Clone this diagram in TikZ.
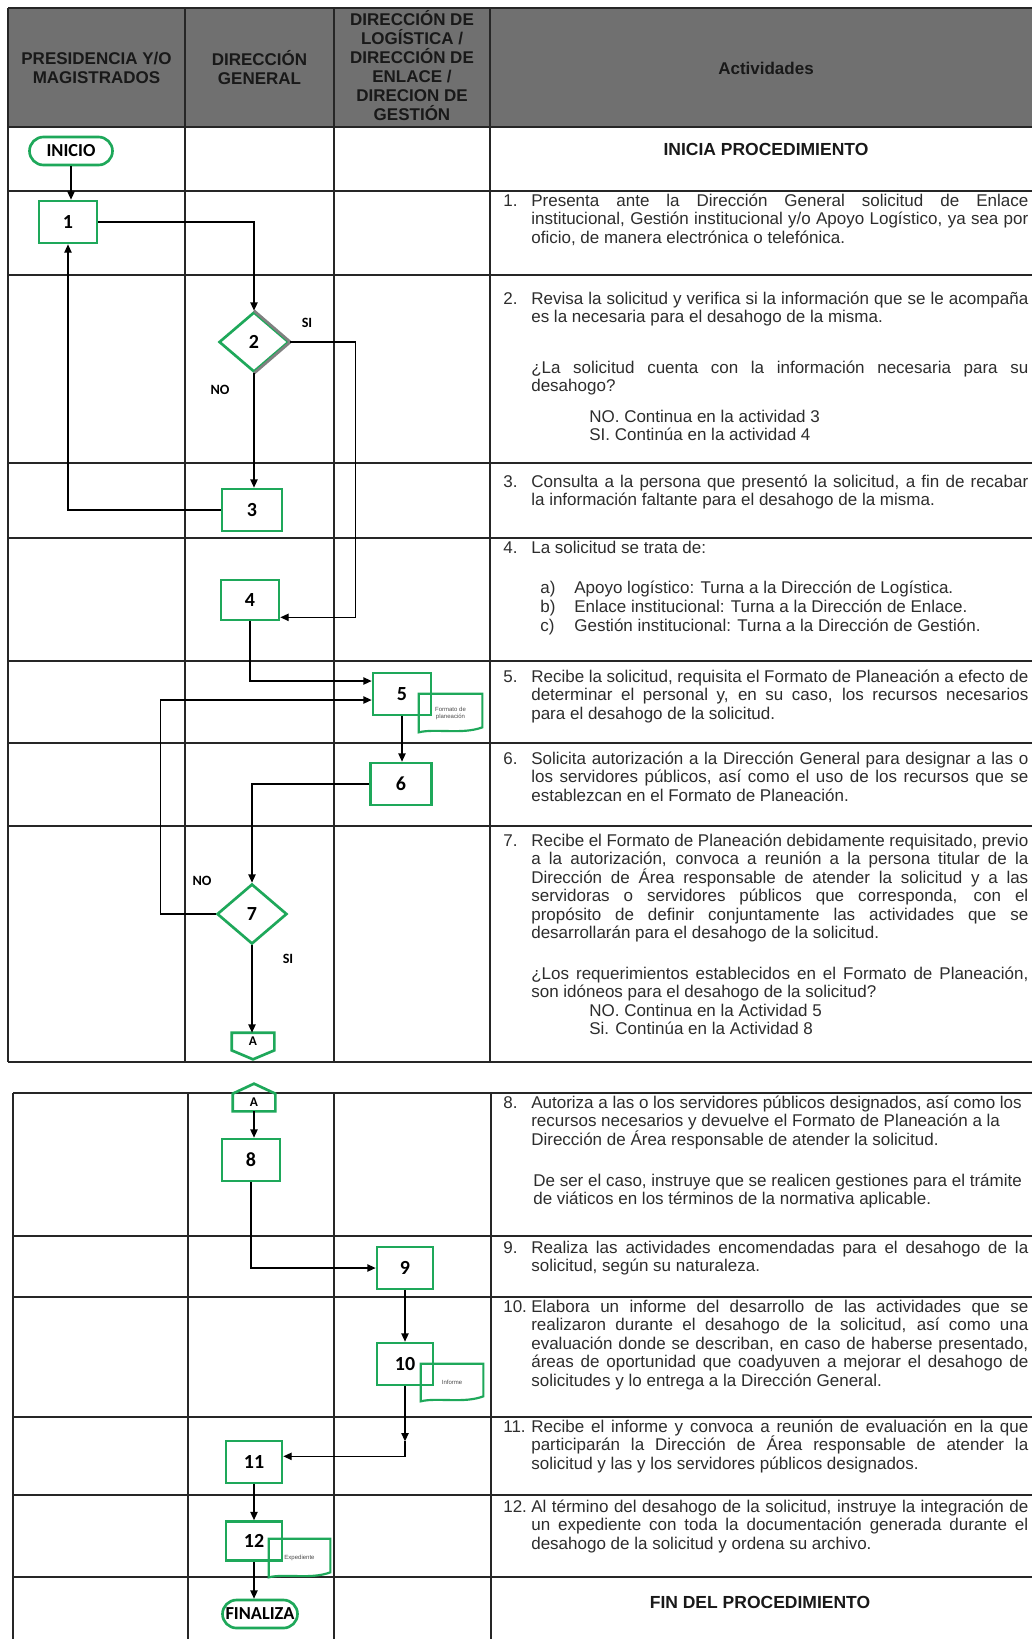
\documentclass[tikz,border=0pt]{standalone}
\usepackage{fontspec}
\setmainfont{Liberation Sans}
\newfontfamily\calfont{Carlito}
\usetikzlibrary{arrows.meta,shapes.geometric,calc}
\definecolor{flowgreen}{RGB}{30,168,90}
\definecolor{hdrgray}{RGB}{112,112,112}
\definecolor{bodytxt}{RGB}{45,45,45}
\newcommand\bodyfont{\fontsize{10.2pt}{11.1pt}\selectfont}
\newcommand\JL[1]{\hbox to\hsize{#1}}
\newcommand\RL[1]{\hbox{#1}}
\newcommand\blk[2]{\vtop{\hsize=#1\relax #2}}
\newcommand\docshape[1]{\draw[docline] (#1.north west) -- (#1.north east) -- ([yshift=3pt]#1.south east) .. controls ([xshift=-12pt,yshift=-1.5pt]#1.south east) and ([xshift=10pt,yshift=2.5pt]#1.south west) .. (#1.south west) -- cycle;}
\begin{document}
\begin{tikzpicture}[x=0.6pt,y=-0.6pt,
  gridline/.style={line width=1.2pt,draw=black!85},
  hdr/.style={align=center,font=\bfseries\fontsize{10.2pt}{11.4pt}\selectfont,text=black!90,inner sep=0pt},
  txt/.style={anchor=base west,inner sep=0pt,font=\bodyfont,text=bodytxt},
  ttl/.style={anchor=base,inner sep=0pt,font=\bfseries\fontsize{10.5pt}{12pt}\selectfont,text=black!90},
  proc/.style={draw=flowgreen,line width=1.6pt,minimum width=34.8pt,minimum height=25.2pt,inner sep=0pt,font=\calfont\bfseries\fontsize{12pt}{12pt}\selectfont},
  term/.style={draw=flowgreen,line width=1.6pt,rounded corners=8.4pt,minimum height=16.8pt,inner sep=0pt,font=\calfont\bfseries\fontsize{11pt}{11pt}\selectfont},
  decision/.style={diamond,draw=flowgreen,line width=1.6pt,minimum width=42pt,minimum height=36pt,inner sep=0pt,font=\calfont\bfseries\fontsize{12pt}{12pt}\selectfont},
  docnode/.style={inner sep=1pt,align=center,font=\fontsize{3.6pt}{4.2pt}\selectfont,text=black!70},
  docline/.style={draw=flowgreen,line width=1.3pt},
  flowline/.style={draw=flowgreen,line width=1.6pt},
  conn/.style={inner sep=0pt,minimum width=25.2pt,minimum height=10.2pt,font=\calfont\bfseries\fontsize{8pt}{8pt}\selectfont},
  lbl/.style={inner sep=0pt,font=\calfont\bfseries\fontsize{8.5pt}{9pt}\selectfont},
  arr/.style={-{Triangle[length=5pt,width=4.4pt]},line width=0.8pt},
]
\clip (0,0) rectangle (1032,1639);
\fill[white] (0,0) rectangle (1032,1639);
% ---------- table 1 ----------
\fill[hdrgray] (8,8) rectangle (1045,127);
\foreach \y in {8,127,191,275,463,538,661,743,826,1062} \draw[gridline] (8,\y) -- (1045,\y);
\foreach \x in {8,185,334,490} \draw[gridline] (\x,8) -- (\x,1062);
% ---------- table 2 ----------
\foreach \y in {1093,1236,1297,1417,1495,1577} \draw[gridline] (13,\y) -- (1045,\y);
\foreach \x in {13,188,334,491} \draw[gridline] (\x,1093) -- (\x,1650);
% ---------- header ----------
\node[hdr] (h1) at (96.5,68) {PRESIDENCIA Y/O\\MAGISTRADOS};
\node[hdr] (h2) at (259.5,68) {DIRECCIÓN\\GENERAL};
\node[hdr] (h3) at (412,66) {DIRECCIÓN DE\\LOGÍSTICA /\\DIRECCIÓN DE\\ENLACE /\\DIRECION DE\\GESTIÓN};
\node[hdr] (h4) at (766,68) {Actividades};
% ---------- activity texts ----------
\node[ttl] (tini) at (766,155) {INICIA PROCEDIMIENTO};
\node[txt] (n1) at (503,206) {1.};
\node[txt] (t1) at (531,206) {\blk{298.2pt}{\JL{Presenta ante la Dirección General solicitud de Enlace}\JL{institucional, Gestión institucional y/o Apoyo Logístico, ya sea por}\RL{oficio, de manera electrónica o telefónica.}}};
\node[txt] (n2) at (503,304) {2.};
\node[txt] (t2) at (531,304) {\blk{298.2pt}{\JL{Revisa la solicitud y verifica si la información que se le acompaña}\RL{es la necesaria para el desahogo de la misma.}}};
\node[txt] (t2b) at (531,373) {\blk{298.2pt}{\JL{¿La solicitud cuenta con la información necesaria para su}\RL{desahogo?}}};
\node[txt] (t2c) at (589,422) {\blk{200pt}{\RL{NO. Continua en la actividad 3}\RL{SI. Continúa en la actividad 4}}};
\node[txt] (n3) at (503,487) {3.};
\node[txt] (t3) at (531,487) {\blk{298.2pt}{\JL{Consulta a la persona que presentó la solicitud, a fin de recabar}\RL{la información faltante para el desahogo de la misma.}}};
\node[txt] (n4) at (503,553) {4.};
\node[txt] (t4) at (531,553) {La solicitud se trata de:};
\node[txt] (l4a) at (540,593) {a)};
\node[txt] (t4a) at (574,593) {Apoyo logístico: Turna a la Dirección de Logística.};
\node[txt] (l4b) at (540,612) {b)};
\node[txt] (t4b) at (574,612) {Enlace institucional: Turna a la Dirección de Enlace.};
\node[txt] (l4c) at (540,631) {c)};
\node[txt] (t4c) at (574,631) {Gestión institucional: Turna a la Dirección de Gestión.};
\node[txt] (n5) at (503,682) {5.};
\node[txt] (t5) at (531,682) {\blk{298.2pt}{\JL{Recibe la solicitud, requisita el Formato de Planeación a efecto de}\JL{determinar el personal y, en su caso, los recursos necesarios}\RL{para el desahogo de la solicitud.}}};
\node[txt] (n6) at (503,764) {6.};
\node[txt] (t6) at (531,764) {\blk{298.2pt}{\JL{Solicita autorización a la Dirección General para designar a las o}\JL{los servidores públicos, así como el uso de los recursos que se}\RL{establezcan en el Formato de Planeación.}}};
\node[txt] (n7) at (503,846) {7.};
\node[txt] (t7) at (531,846) {\blk{298.2pt}{\JL{Recibe el Formato de Planeación debidamente requisitado, previo}\JL{a la autorización, convoca a reunión a la persona titular de la}\JL{Dirección de Área responsable de atender la solicitud y a las}\JL{servidoras o servidores públicos que corresponda, con el}\JL{propósito de definir conjuntamente las actividades que se}\RL{desarrollarán para el desahogo de la solicitud.}}};
\node[txt] (t7b) at (531,979) {\blk{298.2pt}{\JL{¿Los requerimientos establecidos en el Formato de Planeación,}\RL{son idóneos para el desahogo de la solicitud?}}};
\node[txt] (t7c) at (589,1016) {\blk{200pt}{\RL{NO. Continua en la Actividad 5}\RL{Si. Continúa en la Actividad 8}}};
\node[txt] (n8) at (503,1108) {8.};
\node[txt] (t8) at (531,1108) {\blk{298.2pt}{\RL{Autoriza a las o los servidores públicos designados, así como los}\RL{recursos necesarios y devuelve el Formato de Planeación a la}\RL{Dirección de Área responsable de atender la solicitud.}}};
\node[txt] (t8b) at (533,1186) {\blk{297pt}{\RL{De ser el caso, instruye que se realicen gestiones para el trámite}\RL{de viáticos en los términos de la normativa aplicable.}}};
\node[txt] (n9) at (503,1253) {9.};
\node[txt] (t9) at (531,1253) {\blk{298.2pt}{\JL{Realiza las actividades encomendadas para el desahogo de la}\RL{solicitud, según su naturaleza.}}};
\node[txt] (n10) at (503,1312) {10.};
\node[txt] (t10) at (531,1312) {\blk{298.2pt}{\JL{Elabora un informe del desarrollo de las actividades que se}\JL{realizaron durante el desahogo de la solicitud, así como una}\JL{evaluación donde se describan, en caso de haberse presentado,}\JL{áreas de oportunidad que coadyuven a mejorar el desahogo de}\RL{solicitudes y lo entrega a la Dirección General.}}};
\node[txt] (n11) at (503,1432) {11.};
\node[txt] (t11) at (531,1432) {\blk{298.2pt}{\JL{Recibe el informe y convoca a reunión de evaluación en la que}\JL{participarán la Dirección de Área responsable de atender la}\RL{solicitud y las y los servidores públicos designados.}}};
\node[txt] (n12) at (503,1512) {12.};
\node[txt] (t12) at (531,1512) {\blk{298.2pt}{\JL{Al término del desahogo de la solicitud, instruye la integración de}\JL{un expediente con toda la documentación generada durante el}\RL{desahogo de la solicitud y ordena su archivo.}}};
\node[ttl] (tfin) at (760,1608) {FIN DEL PROCEDIMIENTO};
% ---------- flowchart nodes ----------
\node[term,minimum width=49.8pt] (ini) at (71,151) {INICIO};
\node[proc] (b1) at (68,222) {1};
\node[decision] (d2) at (254,342) {2};
\draw[line width=1.6pt,draw=gray] (d2.north) -- (d2.east) -- (d2.south);
\node[proc,minimum width=36pt] (b3) at (252,510) {3};
\node[proc,minimum height=24pt] (b4) at (250,600) {4};
\node[proc] (b5) at (402,694) {5};
\node[docnode,minimum width=37.8pt,minimum height=22.8pt] (doc5) at (450.5,713) {Formato de\\planeación};
\docshape{doc5}
\node[proc,minimum width=36.6pt] (b6) at (401,784) {6};
\node[decision] (d7) at (252,914) {7};
\node[conn] (a1) at (253,1041.5) {A};
\draw[flowline] (a1.north west) -- (a1.north east) -- (a1.south east) -- ($(a1.south)+(0,9)$) -- (a1.south west) -- cycle;
\node[conn] (a2) at (254,1102.5) {A};
\draw[flowline] (a2.south west) -- (a2.south east) -- (a2.north east) -- ($(a2.north)+(0,-10)$) -- (a2.north west) -- cycle;
\node[proc] (b8) at (251,1160) {8};
\node[proc,minimum width=33.6pt] (b9) at (405,1268) {9};
\node[proc,minimum width=33.6pt] (b10) at (405,1364) {10};
\node[docnode,minimum width=37.2pt,minimum height=22.2pt] (doc10) at (452,1382.5) {Informe};
\docshape{doc10}
\node[proc,minimum width=33.6pt] (b11) at (254,1462) {11};
\node[proc,minimum width=33.6pt,minimum height=23.4pt] (b12) at (254,1541) {12};
\node[docnode,minimum width=36.6pt,minimum height=22.8pt] (doc12) at (299.5,1558) {Expediente};
\docshape{doc12}
\node[term,minimum width=45pt] (fin) at (260,1614) {FINALIZA};
% ---------- labels ----------
\node[lbl] (si2) at (307,323) {SI};
\node[lbl] (no2) at (220,390) {NO};
\node[lbl] (no7) at (202,881) {NO};
\node[lbl] (si7) at (288,959) {SI};
% ---------- connectors ----------
\draw[arr] (ini.south) -- (ini.south |- b1.north);
\draw[arr] (b1.east) -| (d2.north);
\coordinate (s2) at ($(d2.east)+(65,0)$);
\draw[arr] (d2.east) -- (s2) |- ([yshift=2.4pt]b4.south east);
\draw[arr] (d2.south) -- (d2.south |- b3.north);
\draw[arr] (b3.west) -| (b1.south);
\draw[arr] (b4.south) |- ([yshift=7.8pt]b5.west);
\coordinate (r7) at ($(d7.west)+(-55,0)$);
\draw[arr] (d7.west) -- (r7) |- ([yshift=-3.6pt]b5.west);
\draw[arr] (b5.south) -- (b5.south |- b6.north);
\draw[arr] (b6.west) -| (d7.north);
\draw[arr] (d7.south) -- (d7.south |- a1.north);
\draw[arr] (a2.south) -- (a2.south |- b8.north);
\draw[arr] (b8.south) |- (b9.west);
\draw[arr] (b9.south) -- (b9.south |- b10.north);
\coordinate (m10) at ($(b10.south)+(0,55)$);
\coordinate (k10) at ($(b10.south)+(0,70)$);
\draw[arr] (b10.south) -- (m10);
\draw[arr] (m10) -- (k10) -- (k10 -| b11.east);
\draw[arr] (b11.south) -- (b11.south |- b12.north);
\draw[arr] (b12.south) -- (b12.south |- fin.north);
\end{tikzpicture}
\end{document}
